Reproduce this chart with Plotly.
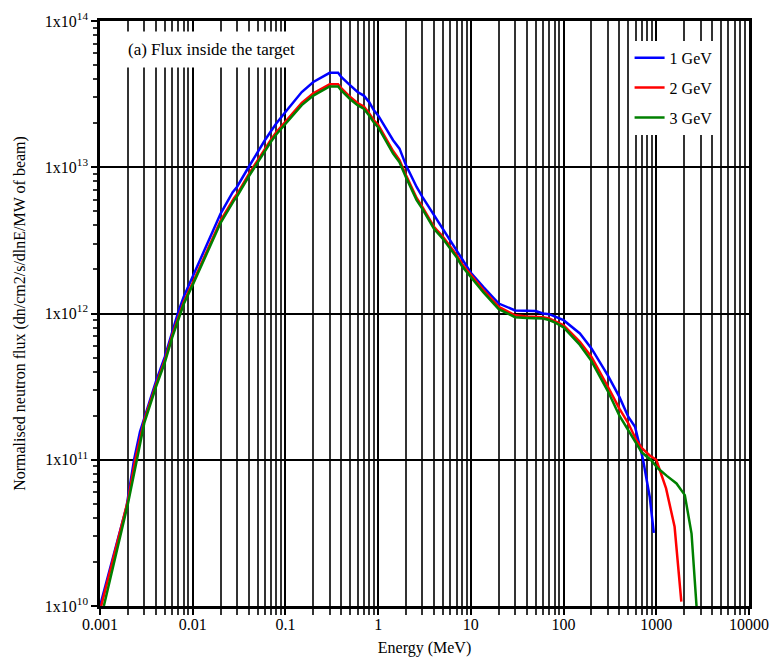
import plotly.graph_objects as go

# ---- data ----
energy_1gev = [0.001, 0.00193, 0.00233, 0.0027, 0.003, 0.004, 0.005, 0.006, 0.007, 0.008,
               0.01, 0.0135, 0.02, 0.027, 0.03, 0.04, 0.05, 0.06, 0.07, 0.08,
               0.1, 0.15, 0.2, 0.3, 0.37, 0.4, 0.5, 0.6, 0.7, 0.8,
               0.9, 1.0, 1.45, 1.7, 2, 2.6, 3, 4, 5, 6,
               7, 8, 10, 13.6, 20, 30, 40, 50, 60, 70,
               80, 100, 150, 200, 300, 400, 500, 590, 720, 850, 940]
flux_1gev = [1.0e10, 4.76e10, 1.0e11, 1.55e11, 1.92e11, 3.40e11, 5.05e11, 7.48e11, 1.03e12, 1.30e12,
             1.78e12, 2.71e12, 4.82e12, 6.76e12, 7.33e12, 1.00e13, 1.27e13, 1.53e13, 1.77e13, 2.0e13,
             2.39e13, 3.27e13, 3.83e13, 4.42e13, 4.42e13, 4.14e13, 3.63e13, 3.27e13, 3.09e13, 2.79e13,
             2.45e13, 2.26e13, 1.53e13, 1.34e13, 1.03e13, 7.33e12, 6.27e12, 4.70e12, 3.81e12, 3.16e12,
             2.71e12, 2.34e12, 1.90e12, 1.52e12, 1.17e12, 1.05e12, 1.04e12, 1.04e12, 1.0e12, 9.9e11,
             9.55e11, 9.0e11, 7.3e11, 5.77e11, 3.78e11, 2.69e11, 1.96e11, 1.68e11, 1.0e11, 5.57e10, 3.16e10]

energy_2gev = [0.00103, 0.002, 0.0024, 0.0028, 0.003, 0.004, 0.005, 0.006, 0.007, 0.008,
               0.01, 0.0135, 0.02, 0.028, 0.03, 0.04, 0.05, 0.06, 0.07, 0.08,
               0.1, 0.15, 0.2, 0.3, 0.37, 0.4, 0.5, 0.6, 0.7, 0.8,
               0.9, 1.0, 1.45, 1.7, 2, 2.6, 3, 4, 5, 6,
               7, 8, 10, 13.6, 20, 30, 40, 50, 60, 70,
               80, 100, 150, 200, 300, 400, 500, 610, 700, 850,
               1000, 1275, 1576, 1862]
flux_2gev = [1.0e10, 5.25e10, 1.0e11, 1.55e11, 1.86e11, 3.24e11, 4.79e11, 7.08e11, 9.55e11, 1.20e12,
             1.62e12, 2.45e12, 4.32e12, 6.17e12, 6.53e12, 8.91e12, 1.12e13, 1.33e13, 1.55e13, 1.74e13,
             2.04e13, 2.75e13, 3.20e13, 3.69e13, 3.69e13, 3.47e13, 3.02e13, 2.75e13, 2.60e13, 2.34e13,
             2.09e13, 1.95e13, 1.29e13, 1.12e13, 8.81e12, 6.17e12, 5.36e12, 3.91e12, 3.34e12, 2.88e12,
             2.51e12, 2.19e12, 1.84e12, 1.45e12, 1.11e12, 9.72e11, 9.55e11, 9.55e11, 9.44e11, 9.25e11,
             8.91e11, 8.32e11, 6.40e11, 5.05e11, 3.16e11, 2.24e11, 1.77e11, 1.36e11, 1.20e11, 1.07e11,
             1.0e11, 6.37e10, 3.48e10, 1.07e10]

energy_3gev = [0.0011, 0.002, 0.0025, 0.003, 0.004, 0.005, 0.006, 0.007, 0.008,
               0.01, 0.0135, 0.02, 0.028, 0.03, 0.04, 0.05, 0.06, 0.07, 0.08,
               0.1, 0.15, 0.2, 0.3, 0.37, 0.4, 0.5, 0.6, 0.7, 0.8,
               0.9, 1.0, 1.45, 1.7, 2, 2.6, 3, 4, 5, 6,
               7, 8, 10, 13.6, 20, 30, 40, 50, 60, 70,
               80, 100, 150, 200, 300, 400, 500, 586, 700, 870,
               1048, 1300, 1652, 2032, 2400, 2716]
flux_3gev = [1.0e10, 5.01e10, 1.0e11, 1.78e11, 3.13e11, 4.62e11, 6.84e11, 9.23e11, 1.16e12,
             1.57e12, 2.37e12, 4.17e12, 5.96e12, 6.31e12, 8.61e12, 1.08e13, 1.29e13, 1.50e13, 1.68e13,
             1.97e13, 2.66e13, 3.09e13, 3.57e13, 3.57e13, 3.35e13, 2.92e13, 2.66e13, 2.51e13, 2.26e13,
             2.02e13, 1.88e13, 1.24e13, 1.08e13, 8.51e12, 5.96e12, 5.19e12, 3.80e12, 3.24e12, 2.79e12,
             2.43e12, 2.11e12, 1.78e12, 1.40e12, 1.07e12, 9.44e11, 9.33e11, 9.33e11, 9.23e11, 9.02e11,
             8.71e11, 8.04e11, 6.10e11, 4.73e11, 2.95e11, 2.0e11, 1.58e11, 1.33e11, 1.12e11, 1.0e11,
             8.71e10, 7.76e10, 6.89e10, 5.73e10, 3.13e10, 1.0e10]

series_names = ["1 GeV", "2 GeV", "3 GeV"]
series_colors = ["#0000ff", "#ff0000", "#008000"]

x_tickvals = [0.001, 0.01, 0.1, 1, 10, 100, 1000, 10000]
x_ticktext = ["0.001", "0.01", "0.1", "1", "10", "100", "1000", "10000"]
y_tickvals = [1e10, 1e11, 1e12, 1e13, 1e14]
y_ticktext = ["1x10<sup>10</sup>", "1x10<sup>11</sup>", "1x10<sup>12</sup>",
              "1x10<sup>13</sup>", "1x10<sup>14</sup>"]

FONT = "Liberation Serif, Times New Roman, serif"

x_minor = [m * 10 ** e for e in range(-3, 4) for m in range(2, 10)]
y_minor = [m * 10 ** e for e in range(10, 14) for m in range(2, 10)]

fig = go.Figure()
for xs, ys, name, col in zip([energy_1gev, energy_2gev, energy_3gev],
                             [flux_1gev, flux_2gev, flux_3gev],
                             series_names, series_colors):
    fig.add_trace(go.Scatter(x=xs, y=ys, mode="lines", name=name, legendgroup=name,
                             line=dict(color=col, width=2.5)))

fig.update_layout(
    width=771, height=657,
    margin=dict(l=100, r=22, t=21, b=51),
    paper_bgcolor="white", plot_bgcolor="white",
    font=dict(family=FONT, size=16, color="black"),
    showlegend=True,
    legend=dict(x=0.816, y=0.966, xanchor="left", yanchor="top",
                bgcolor="white", borderwidth=0, tracegroupgap=6,
                font=dict(family=FONT, size=16),
                itemwidth=30),
    xaxis=dict(type="log", range=[-3, 4], automargin=False,
               tickmode="array", tickvals=x_tickvals, ticktext=x_ticktext,
               ticks="outside", ticklen=6, tickwidth=2, tickcolor="black",
               ticklabelstandoff=-4,
               showgrid=True, gridcolor="black", gridwidth=2,
               showline=True, linecolor="black", linewidth=2.5, mirror=True,
               minor=dict(tickmode="array", tickvals=x_minor, ticks="outside", ticklen=6,
                          tickwidth=1.5, tickcolor="#333333",
                          showgrid=True, gridcolor="#333333", gridwidth=1.5),
               title=dict(text="Energy (MeV)", standoff=11, font=dict(family=FONT, size=16)),
               tickfont=dict(family=FONT, size=16), zeroline=False),
    yaxis=dict(type="log", range=[10, 14], automargin=False,
               tickmode="array", tickvals=y_tickvals, ticktext=y_ticktext,
               ticks="outside", ticklen=6, tickwidth=2, tickcolor="black",
               showgrid=True, gridcolor="black", gridwidth=1.5,
               showline=True, linecolor="black", linewidth=2.5, mirror=True,
               minor=dict(tickmode="array", tickvals=y_minor, ticks="outside", ticklen=4,
                          tickwidth=1.5, tickcolor="#333333", showgrid=False),
               title=dict(text="Normalised neutron flux (dn/cm2/s/dlnE/MW of beam)",
                          standoff=16, font=dict(family=FONT, size=16)),
               tickfont=dict(family=FONT, size=16), zeroline=False),
    annotations=[dict(text="(a) Flux inside the target", xref="paper", yref="paper",
                      x=0.029, y=0.951, xanchor="left", yanchor="middle",
                      showarrow=False, bgcolor="white", borderpad=8,
                      font=dict(family=FONT, size=17, color="black"))],
)

fig.write_html("out.html",
               config={"displayModeBar": False},
               post_script="document.body.style.margin='0';document.body.style.overflow='hidden';")
